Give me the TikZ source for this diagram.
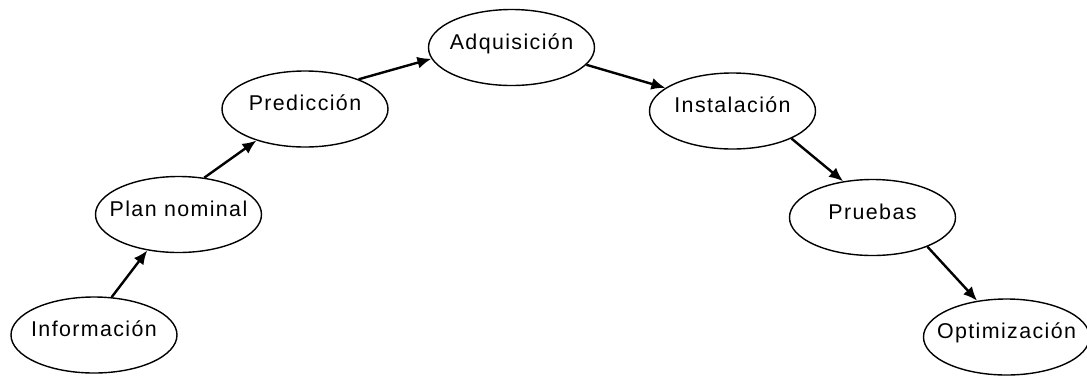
\documentclass[tikz,border=0pt]{standalone}
\usepackage{fontspec}
\setmainfont[LetterSpace=6.5]{Liberation Sans}
\usetikzlibrary{shapes.geometric,arrows.meta}

% zero-width box so that the ellipse keeps its fixed size
\newcommand{\stagetext}[1]{\makebox[0pt]{#1}}

\tikzset{
  stage/.style={ellipse, draw=black, line width=1.4pt, fill=white,
    minimum width=166pt, minimum height=76pt, inner sep=0pt,
    text height=15pt, text depth=12pt,
    font=\fontsize{21.4pt}{25pt}\selectfont},
  flow/.style={line width=2.4pt, -{Latex[length=14pt,width=12pt]}}
}

\begin{document}
\begin{tikzpicture}[x=1pt,y=-1pt]
  \useasboundingbox (0,0) rectangle (1087,376);

  % process stages
  \node[stage] (info)  at (94,335)      {\stagetext{Información}};
  \node[stage] (plan)  at (178.5,214.5) {\stagetext{Plan nominal}};
  \node[stage] (pred)  at (305,109)     {\stagetext{Predicción}};
  \node[stage] (adq)   at (511.5,47.5)  {\stagetext{Adquisición}};
  \node[stage] (inst)  at (732.5,111)   {\stagetext{Instalación}};
  \node[stage] (prue)  at (872.5,217.5) {\stagetext{Pruebas}};
  \node[stage] (opt)   at (1006.5,337)  {\stagetext{Optimización}};

  % sequence of stages
  \draw[flow] (info.65)    -- (plan.-131.5);
  \draw[flow] (plan.55)    -- (pred.-147);
  \draw[flow] (pred.29)    -- (adq.188);
  \draw[flow] (adq.-13)    -- (inst.161.7);
  \draw[flow] (inst.-25)   -- (prue.129);
  \draw[flow] (prue.-28.6) -- (opt.129.3);
\end{tikzpicture}
\end{document}
